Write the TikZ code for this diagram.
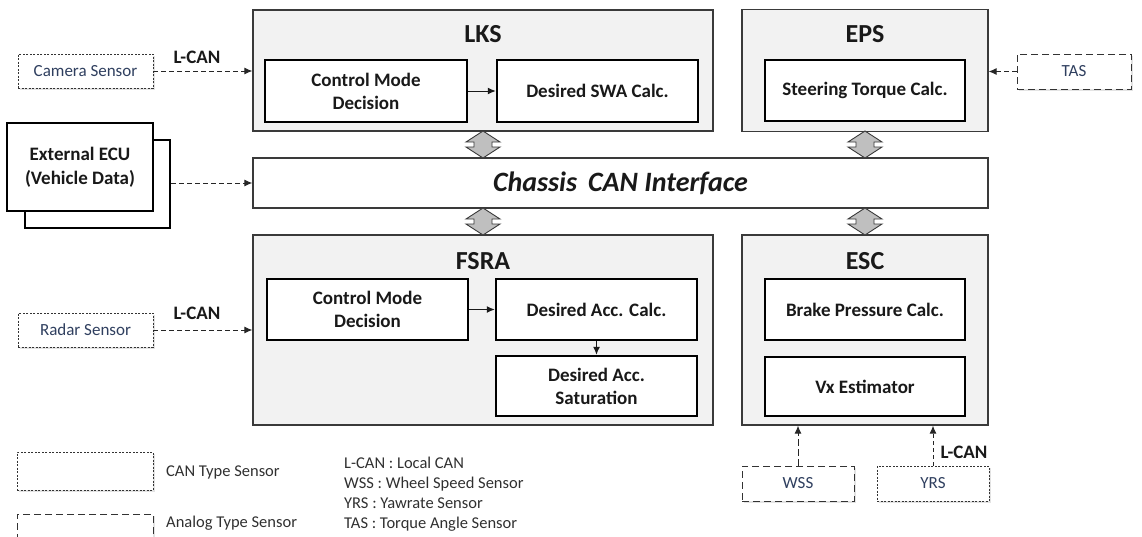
\documentclass[tikz,border=0pt]{standalone}
\usepackage{fontspec}
\setmainfont{Carlito}
\usetikzlibrary{arrows.meta,shadows}
\definecolor{groupfill}{HTML}{F2F2F2}
\definecolor{groupline}{HTML}{3A3A3A}
\definecolor{sensortext}{HTML}{2F3F5F}
\definecolor{legendtext}{HTML}{303030}
\definecolor{linkfill}{HTML}{BFBFBF}
\tikzset{
  group/.style={draw=groupline, line width=1.2pt, fill=groupfill, inner sep=0pt},
  grouptitle/.style={font=\bfseries\fontsize{26}{30}\selectfont, text=black!90},
  block/.style={draw=black, line width=2.5pt, fill=white, align=center, inner sep=0pt,
    font=\bfseries\fontsize{19}{23}\selectfont, text=black!90},
  sensorbase/.style={line width=0.9pt, fill=white, inner sep=0pt,
    font=\fontsize{17}{19}\selectfont, text=sensortext,
    drop shadow={shadow xshift=1.5pt, shadow yshift=-1.5pt, fill=black!22}},
  cansensor/.style={sensorbase, draw=black!80, dash pattern=on 2pt off 1.5pt},
  analogsensor/.style={sensorbase, draw=black!80, dash pattern=on 7pt off 4pt},
  link/.style={-{Latex[length=8pt,width=7pt]}, line width=1pt, dash pattern=on 5pt off 3pt, draw=black!85},
  flow/.style={-{Latex[length=8pt,width=7pt]}, line width=1pt, draw=black!90},
  canlabel/.style={font=\bfseries\fontsize{19}{21}\selectfont, text=black!90},
  legend/.style={font=\fontsize{16.5}{20}\selectfont, text=legendtext, align=left, inner sep=0pt},
  canlink/.pic={
    \draw[fill=linkfill, draw=groupline, line width=0.9pt]
      (0,-13.5) -- (17,-2.5) -- (9,-2.5) -- (9,2.5) -- (17,2.5) -- (0,13.5)
      -- (-17,2.5) -- (-9,2.5) -- (-9,-2.5) -- (-17,-2.5) -- cycle;
  }
}
\begin{document}
\begin{tikzpicture}[x=1pt, y=-1pt]
\useasboundingbox (0,0) rectangle (1142,536);

% ---- function groups ----
\node[group, minimum width=460pt, minimum height=121pt] (lks) at (483,70.5) {};
\node[grouptitle] (lkst) at (483,34) {LKS};
\node[group, minimum width=246pt, minimum height=122pt] (eps) at (865,70.5) {};
\node[grouptitle] (epst) at (865,34) {EPS};
\node[group, minimum width=460pt, minimum height=190pt] (fsra) at (483,330) {};
\node[grouptitle] (fsrat) at (483,261) {FSRA};
\node[group, minimum width=246pt, minimum height=190pt] (esc) at (865,330) {};
\node[grouptitle] (esct) at (865,261) {ESC};

% ---- chassis bus ----
\node[draw=groupline, line width=1.3pt, fill=white, minimum width=735pt, minimum height=50pt,
      inner sep=0pt, font=\bfseries\itshape\fontsize{28}{30}\selectfont, text=black!90]
      (can) at (620.5,183) {Chassis\, CAN Interface};

% ---- bus couplings ----
\pic at (483,144.5) {canlink};
\pic at (865,144.5) {canlink};
\pic at (483,221.5) {canlink};
\pic at (865,221.5) {canlink};

% ---- LKS blocks ----
\node[block, minimum width=202pt, minimum height=62pt] (lkscmd) at (366,91) {Control Mode\\Decision};
\node[block, minimum width=201pt, minimum height=62pt] (swa) at (597.5,91) {Desired SWA Calc.};
\draw[flow] (lkscmd) -- (swa);

% ---- EPS block ----
\node[block, minimum width=200pt, minimum height=61pt] (torque) at (865,90.5) {Steering Torque Calc.};

% ---- FSRA blocks ----
\node[block, minimum width=201pt, minimum height=61pt] (fsracmd) at (367.5,309.5) {Control Mode\\Decision};
\node[block, minimum width=201pt, minimum height=61pt] (acc) at (596.5,309.5) {Desired Acc. Calc.};
\node[block, minimum width=201pt, minimum height=60pt] (sat) at (596.5,386) {Desired Acc.\\Saturation};
\draw[flow] (fsracmd) -- (acc);
\draw[flow] (acc) -- (sat);

% ---- ESC blocks ----
\node[block, minimum width=200pt, minimum height=61pt] (brake) at (865,309.5) {Brake Pressure Calc.};
\node[block, minimum width=200pt, minimum height=59pt] (vx) at (865,386.5) {Vx Estimator};

% ---- sensors and external ECU ----
\node[cansensor, minimum width=135pt, minimum height=34pt] (cam) at (85.5,71) {Camera Sensor};
\draw[link] (cam) -- (cam -| lks.west);
\node[canlabel] (camcan) at (197,57) {L-CAN};

\node[cansensor, minimum width=135pt, minimum height=34pt] (radar) at (85.5,330) {Radar Sensor};
\draw[link] (radar) -- (radar -| fsra.west);
\node[canlabel] (radarcan) at (197,313) {L-CAN};

\node[draw=black, line width=2pt, fill=white, minimum width=145pt, minimum height=88pt] (ecub) at (97.5,184) {};
\node[draw=black, line width=2pt, fill=white, minimum width=146pt, minimum height=88pt, align=center,
      font=\bfseries\fontsize{19}{24}\selectfont, text=black!90] (ecu) at (80,167) {External ECU\\(Vehicle Data)};
\draw[link] (ecub.east |- can) -- (can.west);

\node[analogsensor, minimum width=114pt, minimum height=35pt] (tas) at (1074,71.5) {TAS};
\draw[link] (tas) -- (tas -| eps.east);

\node[analogsensor, minimum width=112pt, minimum height=35pt] (wss) at (798,483.5) {WSS};
\draw[link, dash pattern=on 7pt off 3pt] (wss) -- (wss |- esc.south);

\node[cansensor, minimum width=112pt, minimum height=35pt] (yrs) at (933,483.5) {YRS};
\draw[link, dash pattern=on 4pt off 3pt] (yrs) -- (yrs |- esc.south);
\node[canlabel] (yrscan) at (964,452) {L-CAN};

% ---- legend ----
\node[cansensor, minimum width=136pt, minimum height=38pt] (lgcan) at (85,471) {};
\node[legend, anchor=base west] (lgcant) at (166,476) {CAN Type Sensor};
\node[analogsensor, minimum width=136pt, minimum height=38pt] (lgana) at (85,533) {};
\node[legend, anchor=base west] (lganat) at (166,527) {Analog Type Sensor};
\node[legend, anchor=base west] (abbr1) at (344,468) {L-CAN : Local CAN};
\node[legend, anchor=base west] (abbr2) at (344,488) {WSS : Wheel Speed Sensor};
\node[legend, anchor=base west] (abbr3) at (344,508) {YRS : Yawrate Sensor};
\node[legend, anchor=base west] (abbr4) at (344,528) {TAS : Torque Angle Sensor};
\end{tikzpicture}
\end{document}
